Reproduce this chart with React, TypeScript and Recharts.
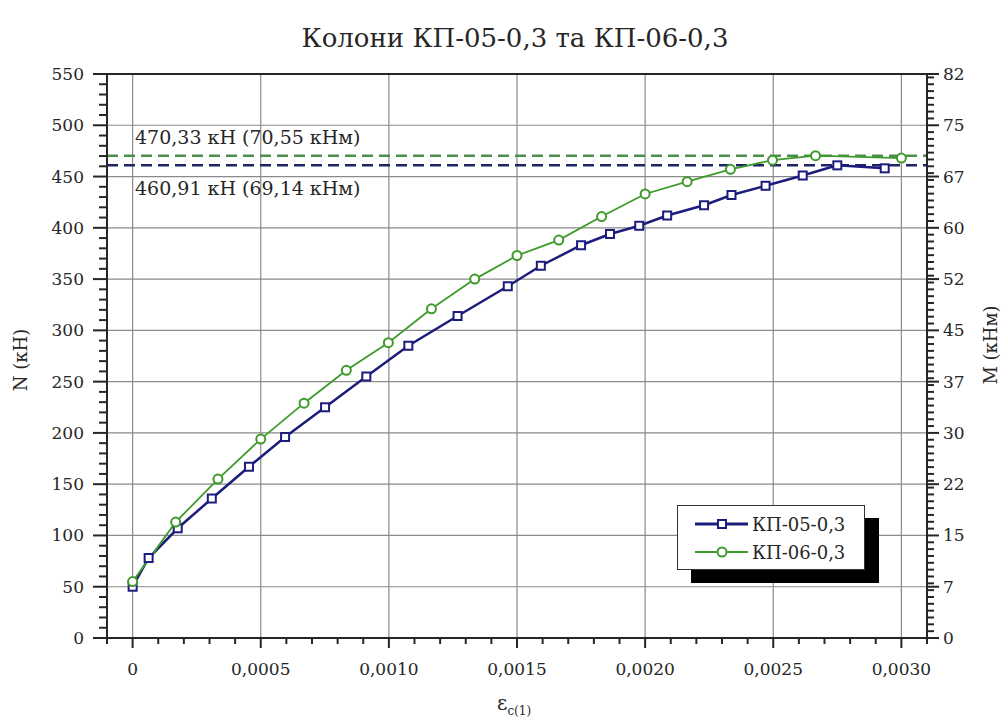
import { LineChart, Line, XAxis, YAxis, ReferenceLine } from "recharts";

// КП-05-0,3 (squares)
const kp05Strain = [0, 0.0000625, 0.000176, 0.000309, 0.000454, 0.000595, 0.000751, 0.000912, 0.001076, 0.001268, 0.001464, 0.001593, 0.00175, 0.001863, 0.001977, 0.002086, 0.00223, 0.002337, 0.00247, 0.002615, 0.00275, 0.002935];
const kp05Load = [50, 78, 107, 136, 167, 196, 225, 255, 285, 314, 343, 363, 383, 394, 402, 412, 422, 432, 441, 451, 460.91, 458];

// КП-06-0,3 (circles)
const kp06Strain = [0, 0.000168, 0.000333, 0.0005, 0.000669, 0.000834, 0.000998, 0.001166, 0.001335, 0.0015, 0.001663, 0.00183, 0.002, 0.002164, 0.002333, 0.002497, 0.002665, 0.003];
const kp06Load = [55, 113, 155, 194, 229, 261, 288, 321, 350, 373, 388, 411, 433, 445, 457, 466, 470.33, 468];

const seriesNames = ["КП-05-0,3", "КП-06-0,3"];
const seriesColors = ["#1c1c7c", "#3f9a2c"];

const peakLoads = [460.91, 470.33];
const peakLabels = ["460,91 кН (69,14 кНм)", "470,33 кН (70,55 кНм)"];

const xTicks = [0, 0.0005, 0.001, 0.0015, 0.002, 0.0025, 0.003];
const xTickLabels = ["0", "0,0005", "0,0010", "0,0015", "0,0020", "0,0025", "0,0030"];
const nTicks = [0, 50, 100, 150, 200, 250, 300, 350, 400, 450, 500, 550];
const mTicks = [0, 7.5, 15, 22.5, 30, 37.5, 45, 52.5, 60, 67.5, 75, 82.5];
const mTickLabels = ["0", "7", "15", "22", "30", "37", "45", "52", "60", "67", "75", "82"];

const FONT = "'DejaVu Serif', serif";
const INK = "#262626";
const GRID = "#8a8a8a";

const kp05 = kp05Strain.map((x, i) => ({ x, n: kp05Load[i] }));
const kp06 = kp06Strain.map((x, i) => ({ x, n: kp06Load[i] }));

const xMinor = Array.from({ length: 33 }, (_, i) => (i - 1) / 10000);
const nMinor = Array.from({ length: 56 }, (_, i) => i * 10);
const mMinor = Array.from(new Set([...Array.from({ length: 83 }, (_, i) => i), ...mTicks])).sort((a, b) => a - b);

const near = (arr: number[], v: number) => arr.findIndex((t) => Math.abs(t - v) < 1e-9);

const txt = { fontFamily: FONT, fill: INK };

const LeftTick = (p: any) => {
  const v = p.payload.value;
  const major = near(nTicks, v) >= 0;
  return (
    <g>
      <line x1={p.x} x2={p.x - (major ? 14 : 8)} y1={p.y} y2={p.y} stroke={INK} strokeWidth={2} />
      {major && (
        <text x={p.x - 23} y={p.y + 6} textAnchor="end" fontSize={17} style={txt}>
          {v}
        </text>
      )}
    </g>
  );
};

const RightTick = (p: any) => {
  const v = p.payload.value;
  const idx = near(mTicks, v);
  return (
    <g>
      <line x1={p.x} x2={p.x + (idx >= 0 ? 12 : 7)} y1={p.y} y2={p.y} stroke={INK} strokeWidth={2} />
      {idx >= 0 && (
        <text x={p.x + 16} y={p.y + 6} textAnchor="start" fontSize={17} style={txt}>
          {mTickLabels[idx]}
        </text>
      )}
    </g>
  );
};

const BottomTick = (p: any) => {
  const v = p.payload.value;
  const idx = near(xTicks, v);
  return (
    <g>
      <line x1={p.x} x2={p.x} y1={p.y} y2={p.y + (idx >= 0 ? 10 : 6)} stroke={INK} strokeWidth={2} />
      {idx >= 0 && (
        <text x={p.x} y={p.y + 37} textAnchor="middle" fontSize={17} style={txt}>
          {xTickLabels[idx]}
        </text>
      )}
    </g>
  );
};

const SquareDot = (p: any) => (
  <rect key={`sq-${p.index}`} x={p.cx - 4} y={p.cy - 4} width={8} height={8} fill="#fff" stroke={seriesColors[0]} strokeWidth={2} />
);
const CircleDot = (p: any) => (
  <circle key={`ci-${p.index}`} cx={p.cx} cy={p.cy} r={4.5} fill="#fff" stroke={seriesColors[1]} strokeWidth={2} />
);

function LegendBox() {
  return (
    <div
      style={{
        position: "absolute",
        left: 677,
        top: 505,
        width: 186,
        height: 63,
        background: "#fff",
        border: "1px solid #333",
        boxShadow: "14px 13px 0 #000",
        fontFamily: FONT,
        fontSize: 18,
        color: INK,
      }}
    >
      {seriesNames.map((name, i) => (
        <div key={name} style={{ position: "absolute", left: 16, top: 6 + i * 28, height: 24, display: "flex", alignItems: "center" }}>
          <svg width={56} height={14}>
            <line x1={1} x2={54} y1={7} y2={7} stroke={seriesColors[i]} strokeWidth={i === 0 ? 2.8 : 2.2} />
            {i === 0 ? (
              <rect x={24} y={3} width={8} height={8} fill="#fff" stroke={seriesColors[0]} strokeWidth={2} />
            ) : (
              <circle cx={28} cy={7} r={4.5} fill="#fff" stroke={seriesColors[1]} strokeWidth={2} />
            )}
          </svg>
          <span style={{ marginLeft: 2 }}>{name}</span>
        </div>
      ))}
    </div>
  );
}

export default function App() {
  return (
    <div style={{ position: "absolute", left: 0, top: 0, width: 1006, height: 722, background: "#fff" }}>
      <div style={{ position: "absolute", left: 0, top: 23, width: 1030, textAlign: "center", fontFamily: FONT, fontSize: 26, color: INK }}>
        Колони КП-05-0,3 та КП-06-0,3
      </div>
      <LineChart width={1006} height={722} data={kp05} margin={{ top: 74, right: 19, bottom: 34, left: 47 }}>
        <XAxis
          dataKey="x"
          type="number"
          domain={[-0.0001, 0.0031]}
          ticks={xMinor}
          interval={0}
          allowDataOverflow
          tickLine={false}
          tickSize={0}
          tickMargin={0}
          height={50}
          axisLine={{ stroke: INK, strokeWidth: 2 }}
          tick={(p: any) => <BottomTick {...p} />}
        />
        <YAxis
          yAxisId="n"
          dataKey="n"
          type="number"
          domain={[0, 550]}
          ticks={nMinor}
          interval={0}
          allowDataOverflow
          tickLine={false}
          tickSize={0}
          tickMargin={0}
          width={60}
          axisLine={{ stroke: INK, strokeWidth: 2 }}
          tick={(p: any) => <LeftTick {...p} />}
        />
        <YAxis
          yAxisId="m"
          orientation="right"
          type="number"
          domain={[0, 82.5]}
          ticks={mMinor}
          interval={0}
          allowDataOverflow
          tickLine={false}
          tickSize={0}
          tickMargin={0}
          width={60}
          axisLine={{ stroke: INK, strokeWidth: 2 }}
          tick={(p: any) => <RightTick {...p} />}
        />
        {xTicks.map((t) => (
          <ReferenceLine key={`gx-${t}`} x={t} yAxisId="n" stroke={GRID} strokeWidth={1.2} />
        ))}
        {nTicks.slice(1, -1).map((t) => (
          <ReferenceLine key={`gy-${t}`} y={t} yAxisId="n" stroke={GRID} strokeWidth={1.2} />
        ))}
        <ReferenceLine y={550} yAxisId="n" stroke={INK} strokeWidth={2} />
        {peakLoads.map((v, i) => (
          <ReferenceLine
            key={`pk-${i}`}
            y={v}
            yAxisId="n"
            stroke={i === 0 ? "#1d2466" : "#4b8f4b"}
            strokeWidth={2.5}
            strokeDasharray="11 6"
            label={(lp: any) => (
              <text x={lp.viewBox.x + 28} y={lp.viewBox.y + (i === 0 ? 30 : -12)} fontSize={19} style={txt}>
                {peakLabels[i]}
              </text>
            )}
          />
        ))}
        <Line
          data={kp05}
          yAxisId="n"
          dataKey="n"
          name={seriesNames[0]}
          type="linear"
          stroke={seriesColors[0]}
          strokeWidth={2.5}
          dot={SquareDot}
          activeDot={false}
          isAnimationActive={false}
        />
        <Line
          data={kp06}
          yAxisId="n"
          dataKey="n"
          name={seriesNames[1]}
          type="linear"
          stroke={seriesColors[1]}
          strokeWidth={1.8}
          dot={CircleDot}
          activeDot={false}
          isAnimationActive={false}
        />
        <text x={20} y={360} transform="rotate(-90 20 360)" textAnchor="middle" dominantBaseline="central" fontSize={18} style={txt}>
          N (кН)
        </text>
        <text x={990} y={345} transform="rotate(-90 990 345)" textAnchor="middle" dominantBaseline="central" fontSize={18} style={txt}>
          M (кНм)
        </text>
        <text x={497} y={710} fontSize={20} style={txt}>
          ε<tspan fontSize={12} dy={5}>c(1)</tspan>
        </text>
      </LineChart>
      <LegendBox />
    </div>
  );
}
